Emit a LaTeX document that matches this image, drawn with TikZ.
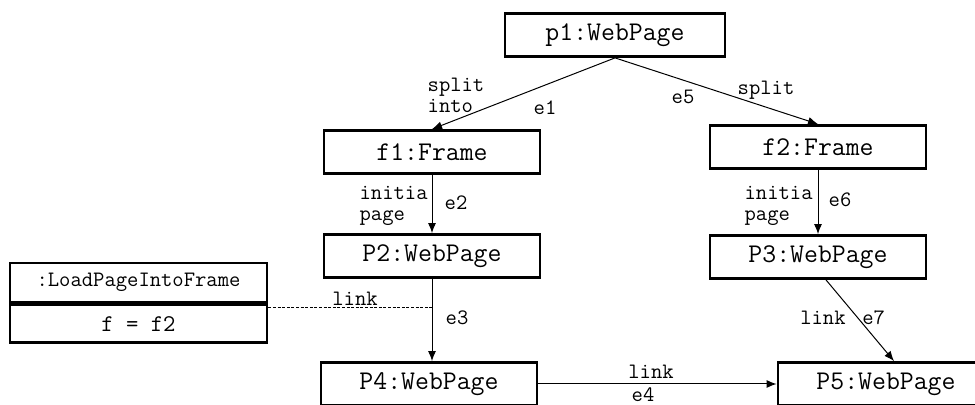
\documentclass[tikz,border=0pt]{standalone}
\usepackage{fontspec}
\usetikzlibrary{arrows.meta,calc,positioning}
\tikzset{>={Latex[length=5pt,width=4pt]}}

\begin{document}
\begin{tikzpicture}[x=0.5pt, y=-0.5pt, font=\ttfamily,
		obj/.style={draw,line width=1.4pt,minimum width=108pt,minimum height=21.5pt,inner sep=0pt,font=\ttfamily\fontsize{13.5}{15}\selectfont},
		lbl/.style={inner sep=0pt,align=left,font=\ttfamily\fontsize{11}{10.5}\selectfont},
		edge/.style={->,line width=0.5pt},
		linkline/.style={line width=0.5pt,dash pattern=on 1.5pt off 0.8pt}]
		\useasboundingbox (0,0) rectangle (975,405);

		% objects
		\node[obj,minimum width=110pt] (p1) at (615,35)  {p1:WebPage};
		\node[obj]                     (f1) at (432,152) {f1:Frame};
		\node[obj]                     (f2) at (818,147) {f2:Frame};
		\node[obj]                     (P2) at (432,256) {P2:WebPage};
		\node[obj]                     (P3) at (818,257) {P3:WebPage};
		\node[obj]                     (P4) at (429,384) {P4:WebPage};
		\node[obj]                     (P5) at (886,384) {P5:WebPage};

		% action with its attribute
		\node[obj,minimum width=128.5pt,minimum height=19.5pt,font=\ttfamily\fontsize{11}{12}\selectfont] (lpf) at (138.5,282.5) {:LoadPageIntoFrame};
		\node[obj,minimum width=128.5pt,minimum height=19pt,font=\ttfamily\fontsize{12}{13}\selectfont,below=0pt of lpf] (lpfattr) {f = f2};

		% edges
		\draw[edge] (p1.south) -- (f1.north);
		\draw[edge] (p1.south) -- (f2.north);
		\draw[edge] (f1) -- (P2);
		\draw[edge] (f2) -- (P3);
		\draw[edge] (P2.south) -- (P2.south |- P4.north);
		\draw[edge] ([xshift=4pt]P3.south) -- ([xshift=4pt]P5.north);
		\draw[edge] (P4) -- (P5);
		\coordinate (lk) at (432,308);
		\draw[linkline] (lpfattr.east |- lk) -- (lk);

		% edge labels
		\node[lbl] (split1) at (456,95)  {split\\into};
		\node[lbl] (e1)     at (545,108) {e1};
		\node[lbl] (e5)     at (683,97)  {e5};
		\node[lbl] (split2) at (766,90)  {split};
		\node[lbl,anchor=east] (init1) at (428,206) {initia\\page};
		\node[lbl] (e2)     at (456,203) {e2};
		\node[lbl,anchor=east] (init2) at (813,206) {initia\\page};
		\node[lbl] (e6)     at (840,200) {e6};
		\node[lbl] (link1)  at (355,299) {link};
		\node[lbl] (e3)     at (457,318) {e3};
		\node[lbl,anchor=east] (link2) at (846,318) {link};
		\node[lbl,anchor=west] (e7)    at (862,318) {e7};
		\node[lbl] (link3)  at (651,372) {link};
		\node[lbl] (e4)     at (643,395) {e4};
	\end{tikzpicture}
\end{document}
